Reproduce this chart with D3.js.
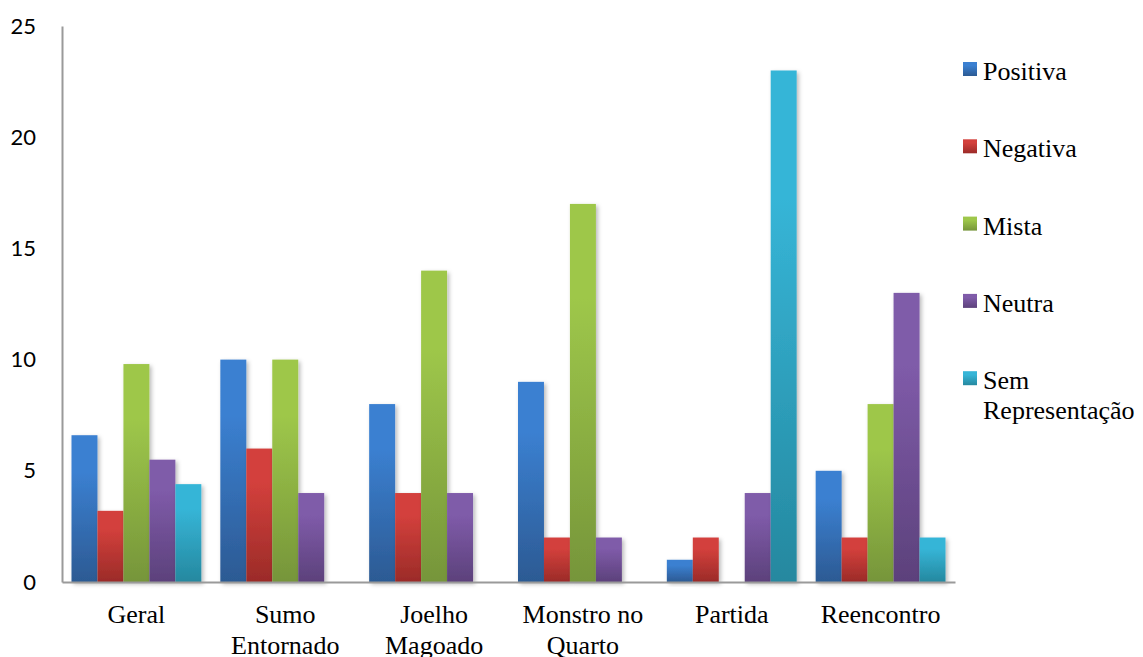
<!DOCTYPE html>
<html>
<head>
<meta charset="utf-8">
<script src="https://cdn.jsdelivr.net/npm/d3@7"></script>
</head>
<body style="margin:0">
<svg id="chart" width="1143" height="657"></svg>
<script>
// Categories (scenes) and their two-line axis labels
const categories = ["Geral", "Sumo Entornado", "Joelho Magoado", "Monstro no Quarto", "Partida", "Reencontro"];
const categoryLines = [["Geral"], ["Sumo", "Entornado"], ["Joelho", "Magoado"], ["Monstro no", "Quarto"], ["Partida"], ["Reencontro"]];

// Series names and legend labels
const series = ["Positiva", "Negativa", "Mista", "Neutra", "Sem Representação"];
const legendLines = [["Positiva"], ["Negativa"], ["Mista"], ["Neutra"], ["Sem", "Representação"]];

// Values per series, one entry per category
const positiva = [6.6, 10, 8, 9, 1, 5];
const negativa = [3.2, 6, 4, 2, 2, 2];
const mista    = [9.8, 10, 14, 17, 0, 8];
const neutra   = [5.5, 4, 4, 2, 4, 13];
const semRep   = [4.4, 0, 0, 0, 23, 2];
const values = [positiva, negativa, mista, neutra, semRep];

// Y axis ticks
const yTicks = [0, 5, 10, 15, 20, 25];

// Gradient colours (top, bottom) for each series
const topColors    = ["#3b80d1", "#d3403c", "#9ec74a", "#7f5ba9", "#36b5d7"];
const bottomColors = ["#2c5a93", "#9b2b28", "#76953a", "#5c417b", "#25889f"];

const SERIF = "Liberation Serif";
const SANS = "Lato";

const svg = d3.select("#chart");
const plot = { left: 62, right: 955, top: 26, bottom: 582 };

const x0 = d3.scaleBand().domain(categories).range([plot.left, plot.right]).padding(0);
const x1 = d3.scaleBand().domain(series).range([9.5, x0.bandwidth() - 9.5]).padding(0);
const y = d3.scaleLinear().domain([0, 25]).range([plot.bottom, plot.top]);

const defs = svg.append("defs");
series.forEach((s, i) => {
  const g = defs.append("linearGradient")
    .attr("id", "grad" + i)
    .attr("x1", 0).attr("y1", 0).attr("x2", 0).attr("y2", 1);
  g.append("stop").attr("offset", "0%").attr("stop-color", topColors[i]);
  g.append("stop").attr("offset", "25%").attr("stop-color", topColors[i]);
  g.append("stop").attr("offset", "100%").attr("stop-color", bottomColors[i]);
});
const shadow = defs.append("filter").attr("id", "shadow")
  .attr("x", "-30%").attr("y", "-10%").attr("width", "170%").attr("height", "130%");
shadow.append("feDropShadow")
  .attr("dx", 2).attr("dy", 2).attr("stdDeviation", 2.2)
  .attr("flood-color", "#000").attr("flood-opacity", 0.28);

// Bars
const barData = [];
categories.forEach((c, ci) => {
  series.forEach((s, si) => {
    const v = values[si][ci];
    if (v > 0) barData.push({ c, s, si, v });
  });
});

svg.append("g").selectAll("rect")
  .data(barData)
  .join("rect")
  .attr("x", d => x0(d.c) + x1(d.s))
  .attr("width", x1.bandwidth())
  .attr("y", d => y(d.v))
  .attr("height", d => y(0) - y(d.v))
  .attr("fill", d => `url(#grad${d.si})`)
  .attr("filter", "url(#shadow)");

// Y axis
const yAxis = svg.append("g")
  .attr("transform", `translate(${plot.left},0)`)
  .call(d3.axisLeft(y).tickValues(yTicks).tickSize(0).tickPadding(26));
yAxis.select(".domain").attr("stroke", "#9a9a9a").attr("stroke-width", 2);
yAxis.selectAll("text")
  .style("font-family", SANS)
  .style("font-size", "22px")
  .attr("fill", "#000");

// X axis
const xAxis = svg.append("g")
  .attr("transform", `translate(0,${plot.bottom})`)
  .call(d3.axisBottom(x0).tickSize(0).tickFormat(""));
xAxis.select(".domain").attr("stroke", "#9a9a9a").attr("stroke-width", 2);

// Category labels, one text element per line
const catG = svg.append("g");
categories.forEach((c, i) => {
  categoryLines[i].forEach((line, li) => {
    catG.append("text")
      .attr("x", x0(c) + x0.bandwidth() / 2)
      .attr("y", 623 + li * 31)
      .attr("text-anchor", "middle")
      .style("font-family", SERIF)
      .style("font-size", "26px")
      .attr("fill", "#000")
      .text(line);
  });
});

// Legend
const legend = svg.append("g");
series.forEach((s, i) => {
  const cy = 69 + i * 77.3;
  legend.append("rect")
    .attr("x", 963).attr("y", cy - 7)
    .attr("width", 14).attr("height", 14)
    .attr("fill", `url(#grad${i})`);
  legendLines[i].forEach((line, li) => {
    legend.append("text")
      .attr("x", 983).attr("y", cy + 11 + li * 30)
      .style("font-family", SERIF)
      .style("font-size", "26px")
      .attr("fill", "#000")
      .text(line);
  });
});
</script>
</body>
</html>
